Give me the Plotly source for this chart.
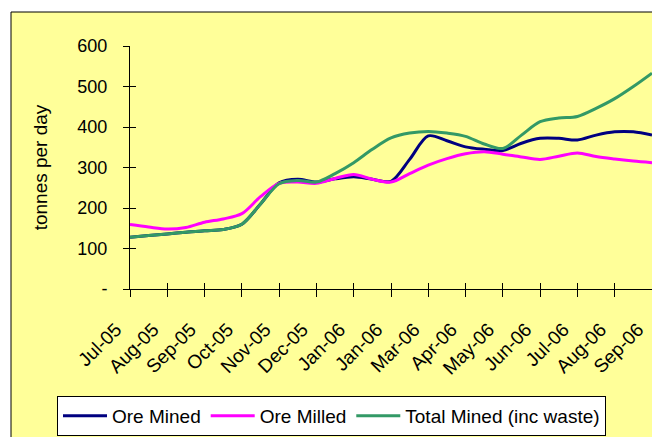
import plotly.graph_objects as go

# Positions along the month axis (0 = Jul-05 tick, 14 = Sep-06 tick)
period = [0, 0.5, 1, 1.5, 2, 2.5, 3, 3.5, 4, 4.5, 5, 5.5, 6, 6.5, 7,
          7.5, 8, 8.5, 9, 9.5, 10, 10.5, 11, 11.5, 12, 12.5, 13, 13.5, 14]

ore_mined = [128, 132, 136, 140, 144, 147, 160, 210, 262, 271, 264, 272, 277, 271, 266,
             320, 378, 366, 351, 345, 342, 360, 372, 372, 368, 380, 388, 388, 380]
ore_milled = [159, 153, 148, 152, 165, 173, 186, 228, 261, 264, 261, 273, 283, 271, 264,
              285, 306, 322, 334, 339, 333, 326, 320, 328, 336, 327, 321, 316, 312]
total_mined = [128, 132, 136, 140, 144, 147, 160, 210, 260, 268, 264, 285, 312, 345, 373,
               385, 389, 385, 377, 358, 347, 380, 413, 422, 426, 446, 470, 500, 533]

tick_pos = list(range(15))
tick_labels = ["Jul-05", "Aug-05", "Sep-05", "Oct-05", "Nov-05", "Dec-05", "Jan-06",
               "Jan-06", "Mar-06", "Apr-06", "May-06", "Jun-06", "Jul-06", "Aug-06", "Sep-06"]
y_ticks = [0, 100, 200, 300, 400, 500, 600]
y_labels = ["-", "100", "200", "300", "400", "500", "600"]

FONT = "Liberation Sans, Arial, sans-serif"

fig = go.Figure()
series = [("Ore Mined", ore_mined, "#000080"),
          ("Ore Milled", ore_milled, "#FF00FF"),
          ("Total Mined (inc waste)", total_mined, "#339966")]
for name, vals, col in series:
    fig.add_trace(go.Scatter(x=period, y=vals, name=name, mode="lines",
                             line=dict(color=col, width=3, shape="spline", smoothing=0.9),
                             hoverinfo="skip", cliponaxis=False))
# empty trace to carry the overlay axes (inner half of crossing tick marks)
fig.add_trace(go.Scatter(x=[], y=[], xaxis="x2", yaxis="y2", showlegend=False,
                         hoverinfo="skip"))

# the page body has an 8px margin: figure origin sits at page (8, 8)
OFF = 8
W, H = 660 - OFF, 437 - OFF
L, R, T, B = 130 - OFF, 660 - 652, 46 - OFF, (437 - OFF) - (289 - OFF)
pw, ph = W - L - R, H - T - B

def px_x(p):  # page pixel -> paper fraction
    return (p - OFF - L) / pw

def px_y(p):
    return (H - B - (p - OFF)) / ph

XR = [0, 14.0001]

fig.update_layout(
    width=W, height=H, autosize=False,
    margin=dict(l=L, r=R, t=T, b=B, autoexpand=False),
    paper_bgcolor="white",
    plot_bgcolor="#FFFFCC",
    font=dict(family=FONT, color="black"),
    shapes=[dict(type="rect", xref="paper", yref="paper", layer="below",
                 x0=px_x(11), x1=px_x(700), y0=px_y(480), y1=px_y(12),
                 fillcolor="#FFFF99", line=dict(color="black", width=1))],
    xaxis=dict(range=XR, tickmode="array", tickvals=tick_pos, ticktext=tick_labels,
               tickangle=-45, tickfont=dict(size=19, family=FONT), ticks="outside",
               ticklen=7, tickcolor="black", showline=True, linecolor="black",
               linewidth=1, showgrid=False, zeroline=False, ticklabelstandoff=14,
               ticklabelshift=-14, ticklabeloverflow="allow"),
    yaxis=dict(range=[0, 600], tickmode="array", tickvals=y_ticks, ticktext=y_labels,
               tickfont=dict(size=18, family=FONT), ticks="outside", ticklen=6,
               tickcolor="black", showline=True, linecolor="black", linewidth=1,
               showgrid=False, zeroline=False, ticklabelstandoff=12,
               title=dict(text="tonnes per day", font=dict(size=19, family=FONT),
                          standoff=24)),
    xaxis2=dict(overlaying="x", anchor="y2", range=XR, tickmode="array",
                tickvals=tick_pos, ticks="inside", ticklen=6, tickcolor="black",
                showticklabels=False, showline=False, showgrid=False, zeroline=False),
    yaxis2=dict(overlaying="y", anchor="x2", side="left", range=[0, 600],
                tickmode="array", tickvals=y_ticks, ticks="inside", ticklen=6,
                tickcolor="black", showticklabels=False, showline=False,
                showgrid=False, zeroline=False),
    legend=dict(orientation="h", x=px_x(57), xanchor="left", y=px_y(396),
                yanchor="top", bgcolor="white", bordercolor="black", borderwidth=1,
                font=dict(size=19, family=FONT), tracegroupgap=0, itemwidth=44),
    showlegend=True,
)

fig.write_html("out.html")
